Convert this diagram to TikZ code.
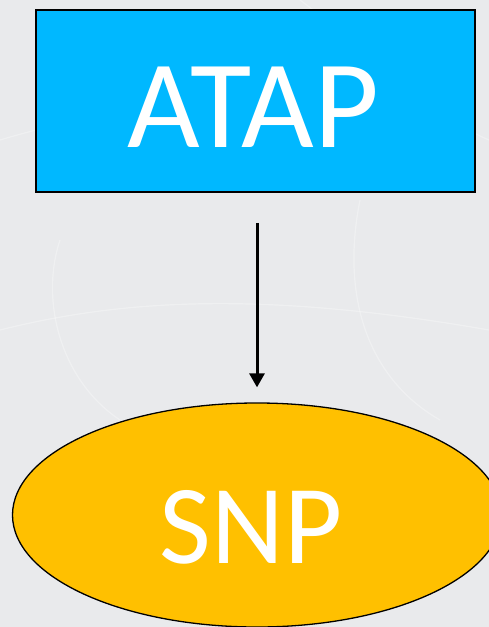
\documentclass[tikz,border=0pt]{standalone}
\usepackage{fontspec}
\setmainfont{Carlito}
\usetikzlibrary{arrows.meta,shapes.geometric}
\definecolor{bgc}{HTML}{E9EAEC}
\definecolor{atapblue}{HTML}{00B8FF}
\definecolor{snpgold}{HTML}{FFC000}
\tikzset{
  boxstyle/.style={draw=black, line width=1.5bp, fill=atapblue, inner sep=0pt},
  ovalstyle/.style={ellipse, draw=black, line width=1.3bp, fill=snpgold, inner sep=0pt},
  bigtext/.style={text=white, inner sep=0pt, anchor=base, font=\fontsize{126}{130}\selectfont},
  midtext/.style={text=white, inner sep=0pt, anchor=base, font=\fontsize{113}{118}\selectfont},
  flow/.style={line width=3bp, -{Triangle[length=14bp,width=15bp]}},
  swirl/.style={white, opacity=0.3, line width=1.2bp}
}
\begin{document}
\begin{tikzpicture}[x=1bp,y=-1bp]
  \path[fill=bgc] (0,0) rectangle (489,627);
  \useasboundingbox (0,0) rectangle (489,627);
  \clip (0,0) rectangle (489,627);
  % faint background swirls
  \draw[swirl] (300,0) .. controls (380,60) and (440,120) .. (489,140);
  \draw[swirl] (0,330) .. controls (120,300) and (260,290) .. (489,330);
  \draw[swirl] (0,140) .. controls (100,110) and (200,100) .. (300,90);
  \draw[swirl] (360,200) .. controls (340,300) and (370,380) .. (440,420);
  \draw[swirl] (60,240) .. controls (40,300) and (60,380) .. (120,420);
  % nodes
  \node[boxstyle, minimum width=439bp, minimum height=182bp] (atap) at (255.5,101) {};
  \node[bigtext] (atapt) at (253.5,148) {ATAP};
  \node[ovalstyle, minimum width=489bp, minimum height=224bp] (snp) at (257,515) {};
  \node[midtext] (snpt) at (251,563) {SNP};
  % connector
  \draw[flow, shorten <=30bp, shorten >=15bp] (atap.south -| snp.north) -- (snp.north);
\end{tikzpicture}
\end{document}
